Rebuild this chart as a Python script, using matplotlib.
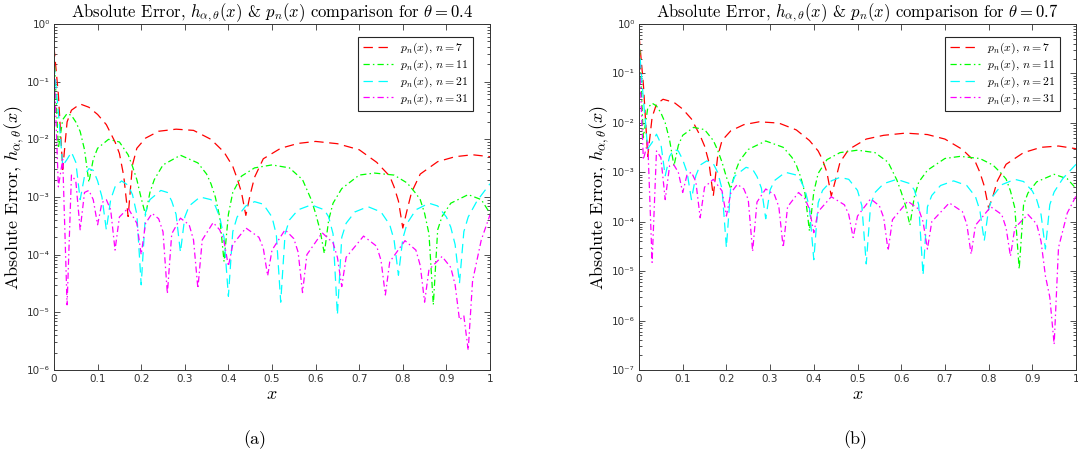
import matplotlib
matplotlib.use('Agg')
import matplotlib.pyplot as plt
from matplotlib.ticker import FixedLocator, FuncFormatter, LogLocator, NullFormatter

plt.rcParams['mathtext.fontset'] = 'cm'
plt.rcParams['font.family'] = 'serif'
plt.rcParams['font.serif'] = ['cmr10', 'DejaVu Serif']
plt.rcParams['axes.formatter.use_mathtext'] = True

# ---------------- data: panel (a), theta = 0.4 ----------------
n7_x_a = [0, 0.01, 0.02, 0.03, 0.04, 0.06, 0.08, 0.10, 0.12, 0.14, 0.15, 0.16, 0.17, 0.18, 0.19,
          0.21, 0.24, 0.28, 0.32, 0.36, 0.39, 0.41, 0.42, 0.43, 0.44, 0.45, 0.46, 0.48, 0.52, 0.56,
          0.60, 0.65, 0.70, 0.74, 0.77, 0.78, 0.79, 0.80, 0.81, 0.82, 0.84, 0.88, 0.92, 0.96, 1.00]
n7_y_a = [0.40, 0.06, 3.0e-3, 0.02, 0.032, 0.041, 0.036, 0.027, 0.018, 9.0e-3, 5.7e-3, 2.3e-3,
          4.6e-4, 3.6e-3, 7.0e-3, 0.0105, 0.0138, 0.015, 0.0143, 0.010, 6.0e-3, 3.4e-3, 2.1e-3,
          1.2e-3, 4.8e-4, 1.1e-3, 2.2e-3, 4.6e-3, 7.0e-3, 8.5e-3, 9.2e-3, 8.4e-3, 6.6e-3, 4.0e-3,
          2.3e-3, 1.5e-3, 8.5e-4, 2.9e-4, 6.0e-4, 1.2e-3, 2.5e-3, 4.1e-3, 5.0e-3, 5.4e-3, 5.0e-3]

n11_x = [0, 0.01, 0.02, 0.03, 0.04, 0.05, 0.06, 0.07, 0.08, 0.09, 0.10, 0.125, 0.15, 0.17, 0.18,
         0.19, 0.20, 0.21, 0.22, 0.23, 0.25, 0.29, 0.33, 0.35, 0.36, 0.37, 0.38, 0.39, 0.40, 0.41,
         0.43, 0.46, 0.50, 0.54, 0.57, 0.59, 0.60, 0.61, 0.62, 0.63, 0.64, 0.66, 0.70, 0.735, 0.78,
         0.81, 0.83, 0.84, 0.85, 0.86, 0.87, 0.88, 0.89, 0.91, 0.95, 0.98, 1.00]
n11_y_a = [0.33, 7.0e-3, 0.022, 0.028, 0.026, 0.020, 0.0137, 6.6e-3, 1.8e-3, 4.5e-3, 7.0e-3,
           0.010, 9.0e-3, 5.4e-3, 3.4e-3, 2.0e-3, 9.5e-4, 4.9e-4, 1.2e-3, 2.0e-3, 3.6e-3, 5.3e-3,
           3.9e-3, 2.5e-3, 1.7e-3, 1.0e-3, 4.5e-4, 7.6e-5, 5.0e-4, 1.2e-3, 2.3e-3, 3.2e-3, 3.6e-3,
           3.2e-3, 2.0e-3, 9.0e-4, 5.2e-4, 2.7e-4, 1.05e-4, 4.0e-4, 7.8e-4, 1.4e-3, 2.4e-3, 2.6e-3,
           2.4e-3, 1.75e-3, 1.15e-3, 9.0e-4, 5.2e-4, 2.3e-4, 1.35e-5, 2.7e-4, 4.6e-4, 7.8e-4,
           1.1e-3, 9.0e-4, 5.2e-4]

n21_x = [0, 0.01, 0.02, 0.03, 0.04, 0.05, 0.06, 0.07, 0.08, 0.09, 0.10, 0.11, 0.12, 0.13, 0.14,
         0.155, 0.17, 0.18, 0.19, 0.20, 0.21, 0.22, 0.245, 0.26, 0.27, 0.28, 0.29, 0.30, 0.31,
         0.335, 0.36, 0.37, 0.38, 0.39, 0.40, 0.41, 0.42, 0.44, 0.46, 0.48, 0.50, 0.51, 0.52, 0.53,
         0.54, 0.56, 0.59, 0.62, 0.63, 0.64, 0.65, 0.66, 0.67, 0.69, 0.72, 0.75, 0.77, 0.78, 0.79,
         0.80, 0.81, 0.83, 0.86, 0.88, 0.90, 0.91, 0.92, 0.93, 0.94, 0.95, 0.97, 1.00]
n21_y_a = [0.20, 0.03, 3.5e-3, 4.5e-3, 6.0e-3, 4.0e-3, 9.0e-4, 2.3e-3, 3.1e-3, 2.9e-3, 1.9e-3,
           1.0e-3, 2.7e-4, 9.0e-4, 1.5e-3, 1.9e-3, 1.6e-3, 1.1e-3, 5.0e-4, 3.0e-5, 5.5e-4, 9.0e-4,
           1.3e-3, 1.2e-3, 8.5e-4, 5.0e-4, 1.1e-4, 4.5e-4, 7.0e-4, 1.0e-3, 9.0e-4, 7.0e-4, 4.5e-4,
           2.0e-4, 1.9e-5, 2.5e-4, 4.5e-4, 7.0e-4, 8.3e-4, 7.5e-4, 4.5e-4, 2.2e-4, 1.5e-5, 2.3e-4,
           4.0e-4, 6.0e-4, 7.3e-4, 6.0e-4, 4.5e-4, 2.3e-4, 9.0e-6, 2.0e-4, 3.5e-4, 5.5e-4, 6.8e-4,
           5.5e-4, 3.3e-4, 1.8e-4, 4.4e-5, 1.9e-4, 3.5e-4, 6.0e-4, 7.8e-4, 7.0e-4, 4.5e-4, 3.0e-4,
           1.5e-4, 3.2e-5, 2.5e-4, 4.5e-4, 8.5e-4, 1.7e-3]

n31_x = [0, 0.01, 0.02, 0.03, 0.04, 0.05, 0.06, 0.07, 0.08, 0.09, 0.10, 0.11, 0.12, 0.13, 0.14,
         0.15, 0.17, 0.19, 0.20, 0.21, 0.225, 0.24, 0.25, 0.26, 0.27, 0.29, 0.31, 0.32, 0.33, 0.34,
         0.365, 0.38, 0.39, 0.40, 0.41, 0.44, 0.47, 0.48, 0.49, 0.50, 0.53, 0.55, 0.56, 0.57, 0.58,
         0.615, 0.64, 0.65, 0.66, 0.67, 0.71, 0.74, 0.75, 0.76, 0.77, 0.805, 0.83, 0.84, 0.85,
         0.86, 0.89, 0.91, 0.92, 0.93, 0.94, 0.95, 0.96, 0.98, 1.00]
n31_y_a = [0.20, 1.5e-3, 4.5e-3, 1.35e-5, 2.4e-3, 1.9e-3, 2.7e-4, 1.2e-3, 1.3e-3, 9.0e-4, 3.3e-4,
           8.0e-4, 9.0e-4, 6.0e-4, 1.2e-4, 4.5e-4, 6.4e-4, 3.5e-4, 1.0e-4, 3.5e-4, 5.2e-4, 4.2e-4,
           2.5e-4, 2.1e-5, 2.3e-4, 4.3e-4, 3.3e-4, 1.8e-4, 2.6e-5, 1.8e-4, 3.6e-4, 2.7e-4, 1.7e-4,
           6.3e-5, 1.5e-4, 2.9e-4, 2.0e-4, 1.3e-4, 4.3e-5, 1.2e-4, 2.7e-4, 1.9e-4, 1.1e-4, 2.2e-5,
           1.0e-4, 2.4e-4, 1.6e-4, 9.0e-5, 2.8e-5, 9.0e-5, 2.1e-4, 1.4e-4, 8.0e-5, 2.0e-5, 7.5e-5,
           1.75e-4, 1.2e-4, 6.5e-5, 1.5e-5, 5.5e-5, 9.3e-5, 6.0e-5, 3.0e-5, 7.4e-6, 8.7e-6, 2.2e-6,
           3.5e-5, 1.8e-4, 4.9e-4]

# ---------------- data: panel (b), theta = 0.7 ----------------
n7_x_b = [0, 0.01, 0.02, 0.03, 0.04, 0.055, 0.08, 0.10, 0.12, 0.14, 0.15, 0.16, 0.17, 0.18, 0.19,
          0.21, 0.24, 0.275, 0.32, 0.36, 0.39, 0.41, 0.42, 0.43, 0.44, 0.45, 0.46, 0.48, 0.52, 0.56,
          0.61, 0.66, 0.70, 0.74, 0.77, 0.78, 0.79, 0.80, 0.81, 0.82, 0.84, 0.88, 0.92, 0.96, 1.00]
n7_y_b = [0.60, 0.06, 2.1e-3, 0.013, 0.024, 0.030, 0.026, 0.019, 0.012, 5.5e-3, 3.4e-3, 1.6e-3,
          3.3e-4, 2.1e-3, 4.4e-3, 6.9e-3, 9.2e-3, 0.0105, 9.9e-3, 7.2e-3, 4.4e-3, 2.7e-3, 1.8e-3,
          1.0e-3, 3.3e-4, 7.2e-4, 1.6e-3, 2.9e-3, 4.7e-3, 5.6e-3, 6.2e-3, 5.8e-3, 4.7e-3, 2.9e-3,
          1.6e-3, 1.0e-3, 5.3e-4, 1.9e-4, 3.3e-4, 6.7e-4, 1.45e-3, 2.5e-3, 3.2e-3, 3.4e-3, 3.0e-3]

n11_y_b = [0.60, 5.0e-3, 0.020, 0.025, 0.022, 0.016, 0.010, 4.5e-3, 1.35e-3, 3.5e-3, 5.6e-3,
           8.1e-3, 7.3e-3, 4.4e-3, 2.8e-3, 1.6e-3, 8.0e-4, 4.6e-4, 1.0e-3, 1.7e-3, 2.9e-3, 4.3e-3,
           3.2e-3, 2.0e-3, 1.4e-3, 8.0e-4, 3.7e-4, 6.5e-5, 4.0e-4, 9.5e-4, 1.8e-3, 2.5e-3, 2.8e-3,
           2.5e-3, 1.6e-3, 7.0e-4, 4.0e-4, 2.1e-4, 8.5e-5, 3.2e-4, 6.3e-4, 1.1e-3, 1.9e-3, 2.1e-3,
           1.9e-3, 1.4e-3, 9.3e-4, 7.3e-4, 4.2e-4, 1.9e-4, 1.1e-5, 2.2e-4, 3.8e-4, 6.4e-4, 9.1e-4,
           7.4e-4, 4.7e-4]

n21_y_b = [0.40, 0.03, 3.0e-3, 4.0e-3, 5.9e-3, 3.8e-3, 8.5e-4, 2.1e-3, 2.9e-3, 2.7e-3, 1.8e-3,
           1.0e-3, 2.8e-4, 8.5e-4, 1.4e-3, 1.7e-3, 1.5e-3, 1.0e-3, 4.6e-4, 3.0e-5, 5.2e-4, 8.5e-4,
           1.26e-3, 1.15e-3, 8.2e-4, 4.8e-4, 1.15e-4, 4.4e-4, 6.8e-4, 1.0e-3, 8.8e-4, 6.8e-4, 4.4e-4,
           1.9e-4, 1.7e-5, 2.4e-4, 4.3e-4, 6.7e-4, 7.9e-4, 7.2e-4, 4.3e-4, 2.1e-4, 1.4e-5, 2.2e-4,
           3.9e-4, 5.9e-4, 7.2e-4, 5.9e-4, 4.4e-4, 2.2e-4, 8.3e-6, 2.0e-4, 3.4e-4, 5.4e-4, 6.7e-4,
           5.4e-4, 3.2e-4, 1.7e-4, 4.1e-5, 1.8e-4, 3.3e-4, 5.6e-4, 7.2e-4, 6.5e-4, 4.2e-4, 2.8e-4,
           1.4e-4, 2.8e-5, 2.2e-4, 4.0e-4, 7.5e-4, 1.45e-3]

n31_y_b = [0.30, 1.8e-3, 4.1e-3, 1.5e-5, 2.7e-3, 2.0e-3, 2.8e-4, 1.35e-3, 1.4e-3, 1.0e-3, 3.9e-4,
           9.0e-4, 1.0e-3, 6.5e-4, 1.2e-4, 5.0e-4, 7.2e-4, 4.2e-4, 1.3e-4, 3.8e-4, 5.7e-4, 4.6e-4,
           2.8e-4, 2.5e-5, 2.5e-4, 4.6e-4, 3.5e-4, 2.0e-4, 3.0e-5, 2.0e-4, 3.9e-4, 2.9e-4, 1.8e-4,
           6.0e-5, 1.6e-4, 3.2e-4, 2.2e-4, 1.4e-4, 4.8e-5, 1.3e-4, 2.9e-4, 2.1e-4, 1.2e-4, 2.6e-5,
           1.1e-4, 2.6e-4, 1.8e-4, 1.0e-4, 2.8e-5, 1.0e-4, 2.4e-4, 1.6e-4, 9.0e-5, 2.2e-5, 8.5e-5,
           2.0e-4, 1.4e-4, 7.5e-5, 2.0e-5, 7.5e-5, 1.4e-4, 9.0e-5, 4.0e-5, 8.0e-6, 3.0e-6, 3.3e-7,
           3.0e-5, 1.5e-4, 3.3e-4]

legend_labels = [r"$p_n(x)$, $n=7$", r"$p_n(x)$, $n=11$", r"$p_n(x)$, $n=21$", r"$p_n(x)$, $n=31$"]
thetas = ["0.4", "0.7"]
x_ticks = [0, 0.1, 0.2, 0.3, 0.4, 0.5, 0.6, 0.7, 0.8, 0.9, 1.0]
x_tick_labels = ["0", "0.1", "0.2", "0.3", "0.4", "0.5", "0.6", "0.7", "0.8", "0.9", "1"]
sub_captions = ["(a)", "(b)"]

panels = [
    dict(series=[(n7_x_a, n7_y_a), (n11_x, n11_y_a), (n21_x, n21_y_a), (n31_x, n31_y_a)],
         ylim=(1e-6, 1e0)),
    dict(series=[(n7_x_b, n7_y_b), (n11_x, n11_y_b), (n21_x, n21_y_b), (n31_x, n31_y_b)],
         ylim=(1e-7, 1e0)),
]

styles = [
    dict(color='#FF0000', dashes=(7.5, 4.5)),
    dict(color='#00FF00', dashes=(5, 2.5, 1.2, 2.5)),
    dict(color='#00FFFF', dashes=(7.5, 4.5)),
    dict(color='#FF00FF', dashes=(5, 2.5, 1.2, 2.5)),
]

SUP = str.maketrans("-0123456789", "⁻⁰¹²³⁴⁵⁶⁷⁸⁹")


def sup_fmt(v, pos):
    import math
    e = int(round(math.log10(v)))
    return "10" + str(e).translate(SUP)


W, H = 1078, 465
fig = plt.figure(figsize=(W / 100, H / 100), dpi=100)
axes_px = [(54, 490, 24, 370), (639, 1076, 24, 370)]
legend_right_px = [473, 1060]
caption_x = [255, 855]
axcol = '#333333'

for i, (panel, (x0, x1, y0, y1)) in enumerate(zip(panels, axes_px)):
    ax = fig.add_axes([x0 / W, 1 - y1 / H, (x1 - x0) / W, (y1 - y0) / H])
    for (xs, ys), st, lab in zip(panel['series'], styles, legend_labels):
        ax.plot(xs, ys, color=st['color'], lw=0.9, dashes=st['dashes'], label=lab)
    ax.set_yscale('log')
    ax.set_xlim(0, 1)
    ax.set_ylim(*panel['ylim'])
    ax.xaxis.set_major_locator(FixedLocator(x_ticks))
    ax.set_xticklabels(x_tick_labels, family='DejaVu Sans', fontsize=7.5, color=axcol)
    ax.yaxis.set_major_locator(LogLocator(base=10, numticks=20))
    ax.yaxis.set_minor_locator(LogLocator(base=10, subs=range(2, 10), numticks=20))
    ax.yaxis.set_major_formatter(FuncFormatter(sup_fmt))
    ax.yaxis.set_minor_formatter(NullFormatter())
    for lbl in ax.get_yticklabels():
        lbl.set_family('DejaVu Sans')
        lbl.set_fontsize(7.5)
        lbl.set_color(axcol)
    ax.tick_params(which='both', direction='in', top=True, right=True, colors=axcol,
                   width=0.6, pad=3)
    ax.tick_params(which='major', length=4)
    ax.tick_params(which='minor', length=2.2)
    for sp in ax.spines.values():
        sp.set_color(axcol)
        sp.set_linewidth(0.7)
    ax.set_title(r"Absolute Error, $h_{\alpha,\theta}(x)$ & $p_n(x)$ comparison for $\theta = %s$"
                 % thetas[i], fontsize=12, pad=3)
    ax.set_ylabel(r"Absolute Error, $h_{\alpha,\theta}(x)$", fontsize=13, labelpad=1)
    ax.set_xlabel(r"$x$", fontsize=13, labelpad=2)
    lx = (legend_right_px[i] - x0) / (x1 - x0)
    ly = 1 - (37 - y0) / (y1 - y0)
    leg = ax.legend(loc='upper right', bbox_to_anchor=(lx, ly), borderaxespad=0,
                    fontsize=8.5, fancybox=False, framealpha=1,
                    edgecolor='#262626', handlelength=2.6, borderpad=0.35, labelspacing=0.12,
                    handletextpad=0.6)
    leg.get_frame().set_linewidth(0.8)
    fig.text(caption_x[i] / W, 1 - 440 / H, sub_captions[i], ha='center', va='center',
             fontsize=13)

fig.savefig('out.png', dpi=100)
